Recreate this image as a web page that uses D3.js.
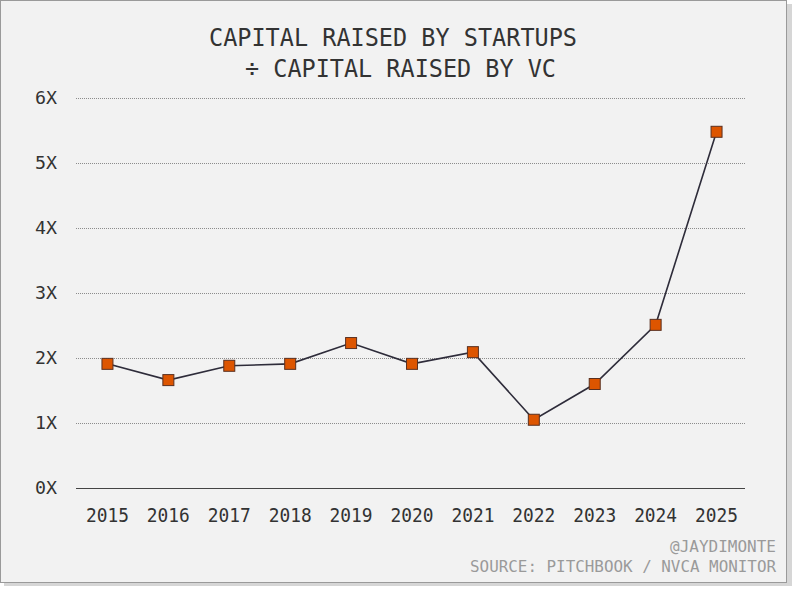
<!DOCTYPE html>
<html><head><meta charset="utf-8">
<script src="https://cdn.jsdelivr.net/npm/d3@7"></script>
<style>
html,body{margin:0;padding:0;background:#fff;}
svg{display:block;}
</style></head>
<body>
<svg id="c" width="800" height="589"></svg>
<script>
const years = ["2015","2016","2017","2018","2019","2020","2021","2022","2023","2024","2025"];
const ratio = [1.91,1.66,1.88,1.91,2.23,1.91,2.09,1.05,1.60,2.51,5.48];
const yTicks = [0,1,2,3,4,5,6];
const titleLines = ["CAPITAL RAISED BY STARTUPS","÷ CAPITAL RAISED BY VC"];
const credit = "@JAYDIMONTE";
const source = "SOURCE: PITCHBOOK / NVCA MONITOR";

const svg = d3.select("#c");
const font = "'DejaVu Sans Mono','Liberation Mono',monospace";

// shadow + panel
svg.append("rect").attr("x",4).attr("y",4).attr("width",788).attr("height",582).attr("fill","#d6d6d6");
svg.append("rect").attr("x",0.5).attr("y",0.5).attr("width",786).attr("height",582)
  .attr("fill","#f2f2f2").attr("stroke","#9a9a9a");

const x = d3.scalePoint().domain(years).range([77,747]).padding(0.5);
const y = d3.scaleLinear().domain([0,6]).range([488,98]);
const gx0 = 76, gx1 = 745;

// title
const titlePos = [{x:209,y:46,w:368},{x:245,y:77,w:311}];
svg.selectAll("text.title").data(titleLines).enter().append("text")
  .attr("class","title")
  .attr("x",(d,i)=>titlePos[i].x).attr("y",(d,i)=>titlePos[i].y)
  .attr("text-anchor","start")
  .attr("font-family",font).attr("font-size",25.5).attr("fill","#333")
  .attr("textLength",(d,i)=>titlePos[i].w).attr("lengthAdjust","spacingAndGlyphs")
  .text(d=>d);

// gridlines
svg.append("g").selectAll("line").data(yTicks.filter(d=>d>0)).enter().append("line")
  .attr("x1",gx0).attr("x2",gx1).attr("y1",d=>y(d)+0.5).attr("y2",d=>y(d)+0.5)
  .attr("stroke","#8c8c8c").attr("stroke-width",1).attr("stroke-dasharray","1,1");
svg.append("line").attr("x1",gx0).attr("x2",gx1).attr("y1",y(0)+0.5).attr("y2",y(0)+0.5)
  .attr("stroke","#444").attr("stroke-width",1);

// y labels
svg.append("g").selectAll("text").data(yTicks).enter().append("text")
  .attr("x",57).attr("y",d=>y(d)+6).attr("text-anchor","end")
  .attr("font-family",font).attr("font-size",17).attr("fill","#333")
  .attr("textLength",22).attr("lengthAdjust","spacingAndGlyphs")
  .text(d=>d+"X");

// x labels
svg.append("g").selectAll("text").data(years).enter().append("text")
  .attr("x",d=>x(d)).attr("y",522).attr("text-anchor","middle")
  .attr("font-family",font).attr("font-size",19).attr("fill","#333")
  .attr("textLength",43).attr("lengthAdjust","spacingAndGlyphs")
  .text(d=>d);

// line
const data = years.map((d,i)=>({year:d,v:ratio[i]}));
svg.append("path").datum(data)
  .attr("d",d3.line().x(d=>x(d.year)).y(d=>y(d.v)))
  .attr("fill","none").attr("stroke","#2e2c3a").attr("stroke-width",1.6);

// markers
const s = 11;
svg.append("g").selectAll("rect").data(data).enter().append("rect")
  .attr("x",d=>x(d.year)-s/2).attr("y",d=>y(d.v)-s/2)
  .attr("width",s).attr("height",s)
  .attr("fill","#dd5500").attr("stroke","#5a3020").attr("stroke-width",1);

// footer
svg.append("text").attr("x",776).attr("y",552).attr("text-anchor","end")
  .attr("font-family",font).attr("font-size",16).attr("fill","#9a9a9a").text(credit);
svg.append("text").attr("x",776).attr("y",572).attr("text-anchor","end")
  .attr("font-family",font).attr("font-size",16).attr("fill","#9a9a9a")
  .attr("textLength",306).attr("lengthAdjust","spacingAndGlyphs").text(source);
</script>
</body></html>
